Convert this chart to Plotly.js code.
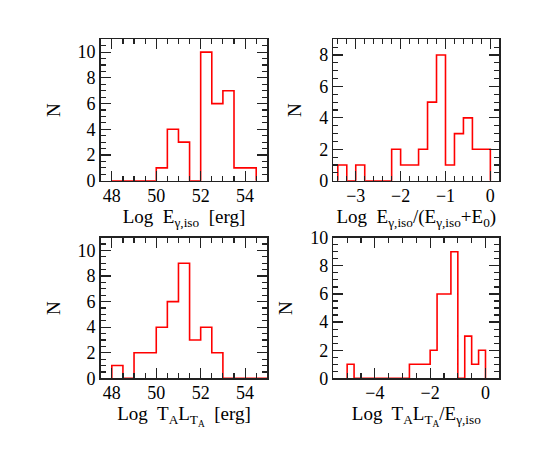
<!DOCTYPE html>
<html>
<head>
<meta charset="utf-8">
<script src="https://cdn.plot.ly/plotly-3.0.1.min.js"></script>
<style>
  html, body { margin: 0; padding: 0; background: #fff; }
  #plot { width: 545px; height: 463px; }
</style>
</head>
<body>
<div id="plot"></div>
<script>
// bin edges and counts
var edgesEiso = [48, 48.5, 49, 49.5, 50, 50.5, 51, 51.5, 52, 52.5, 53, 53.5, 54, 54.5];
var countsEiso = [0, 0, 0, 0, 1, 4, 3, 0, 10, 6, 7, 1, 1];

var edgesFrac = [-3.4, -3.2, -3.0, -2.8, -2.6, -2.4, -2.2, -2.0, -1.8, -1.6, -1.4, -1.2, -1.0, -0.8, -0.6, -0.4, -0.2, 0.0];
var countsFrac = [1, 0, 1, 0, 0, 0, 2, 1, 1, 2, 5, 8, 1, 3, 4, 2, 2];

var edgesTL = [48, 48.5, 49, 49.5, 50, 50.5, 51, 51.5, 52, 52.5, 53, 53.5, 54, 54.5, 55];
var countsTL = [1, 0, 2, 2, 4, 6, 9, 3, 4, 2, 0, 0, 0, 0];

var edgesRatio = [-5.0, -4.75, -4.5, -4.25, -4.0, -3.75, -3.5, -3.25, -3.0, -2.75, -2.5, -2.25, -2.0, -1.75, -1.5, -1.25, -1.0, -0.75, -0.5, -0.25, 0.0];
var countsRatio = [1, 0, 0, 0, 0, 0, 0, 0, 0, 1, 1, 1, 2, 6, 6, 9, 0, 3, 1, 2];

var xTitles = [
  'Log&nbsp; E<sub>γ,iso</sub>&nbsp; [erg]',
  'Log&nbsp; E<sub>γ,iso</sub>/(E<sub>γ,iso</sub>+E<sub>0</sub>)',
  'Log&nbsp; T<sub>A</sub>L<sub>T<sub>A</sub></sub>&nbsp; [erg]',
  'Log&nbsp; T<sub>A</sub>L<sub>T<sub>A</sub></sub>/E<sub>γ,iso</sub>'
];

// step outline: start at 0, go along the counts, drop back to 0 at the last edge
function stepTrace(edges, counts, xa, ya) {
  var x = [edges[0]].concat(edges);
  var y = [0].concat(counts).concat([0]);
  return {
    x: x, y: y, xaxis: xa, yaxis: ya,
    type: 'scatter', mode: 'lines',
    line: { shape: 'hv', color: '#ff0000', width: 1.6 },
    hoverinfo: 'skip'
  };
}

var data = [
  stepTrace(edgesEiso, countsEiso, 'x', 'y'),
  stepTrace(edgesFrac, countsFrac, 'x2', 'y2'),
  stepTrace(edgesTL, countsTL, 'x3', 'y3'),
  stepTrace(edgesRatio, countsRatio, 'x4', 'y4')
];

var tickFont = { family: 'Liberation Serif, Times New Roman, serif', size: 18, color: '#000' };
var titleFont = { family: 'Liberation Serif, Times New Roman, serif', size: 19, color: '#000' };

function xAxis(dom, range, dtick, minor, title, anchor) {
  return {
    domain: dom, range: range, anchor: anchor,
    dtick: dtick, ticks: 'inside', ticklen: 10, tickwidth: 1.2, tickcolor: '#222',
    minor: { dtick: minor, ticks: 'inside', ticklen: 5, tickwidth: 1.2, tickcolor: '#222', showgrid: false },
    showline: true, linecolor: '#222', linewidth: 1.5, mirror: 'allticks',
    showgrid: false, zeroline: false, tickfont: tickFont, ticklabelstandoff: -2,
    title: { text: title, font: titleFont, standoff: 2 }
  };
}

function yAxis(dom, range, minor, anchor) {
  return {
    domain: dom, range: range, anchor: anchor,
    dtick: 2, ticks: 'inside', ticklen: 10, tickwidth: 1.2, tickcolor: '#222',
    minor: { dtick: minor, ticks: 'inside', ticklen: 5, tickwidth: 1.2, tickcolor: '#222', showgrid: false },
    showline: true, linecolor: '#222', linewidth: 1.5, mirror: 'allticks',
    showgrid: false, zeroline: false, tickfont: tickFont,
    title: { text: 'N', font: titleFont, standoff: 12 }
  };
}

var colL = [0.1848, 0.4905], colR = [0.6116, 0.9162];
var rowT = [0.6097, 0.9151], rowB = [0.1829, 0.4866];

var layout = {
  width: 545, height: 463,
  margin: { l: 0, r: 0, t: 0, b: 0 },
  paper_bgcolor: '#fff', plot_bgcolor: '#fff',
  showlegend: false,
  xaxis: xAxis(colL, [47.5, 55], 2, 0.5, xTitles[0], 'y'),
  yaxis: yAxis(rowT, [0, 11], 0.5, 'x'),
  xaxis2: xAxis(colR, [-3.5, 0.2], 1, 0.2, xTitles[1], 'y2'),
  yaxis2: yAxis(rowT, [0, 9], 0.5, 'x2'),
  xaxis3: xAxis(colL, [47.5, 55], 2, 0.5, xTitles[2], 'y3'),
  yaxis3: yAxis(rowB, [0, 11], 0.5, 'x3'),
  xaxis4: xAxis(colR, [-5.5, 0.5], 2, 0.5, xTitles[3], 'y4'),
  yaxis4: yAxis(rowB, [0, 10], 0.5, 'x4')
};

Plotly.newPlot('plot', data, layout, { staticPlot: true });
</script>
</body>
</html>
